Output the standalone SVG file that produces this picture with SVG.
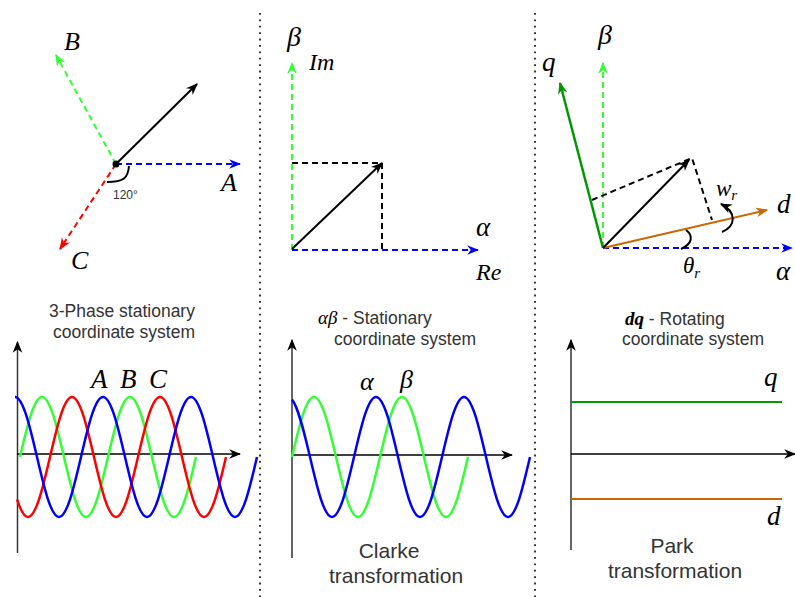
<svg xmlns="http://www.w3.org/2000/svg" width="795" height="597" viewBox="0 0 795 597">
<style>
.math{font-family:"Liberation Serif","DejaVu Serif",serif;font-style:italic;fill:#000}
.cap{font-family:"Liberation Sans",Arial,sans-serif;fill:#333}
.sep{stroke:#222;stroke-width:1.8;stroke-dasharray:1.8 4.6;fill:none}
.dash{fill:none;stroke-width:2;stroke-dasharray:6 4}
.solid{fill:none;stroke-width:2}
.wave{fill:none;stroke-width:2.5}
.axis{fill:none;stroke:#000;stroke-width:1.5}
.vaxis{fill:none;stroke:#333;stroke-width:1.5}
</style>
<defs>
<marker id="ah-k" viewBox="0 0 10 10" refX="9" refY="5" markerWidth="12" markerHeight="12" markerUnits="userSpaceOnUse" orient="auto"><path d="M0,1 L10,5 L0,9 L3,5 z" fill="#000"/></marker>
<marker id="ah-b" viewBox="0 0 10 10" refX="9" refY="5" markerWidth="12" markerHeight="12" markerUnits="userSpaceOnUse" orient="auto"><path d="M0,1 L10,5 L0,9 L3,5 z" fill="#0000FF"/></marker>
<marker id="ah-lg" viewBox="0 0 10 10" refX="9" refY="5" markerWidth="12" markerHeight="12" markerUnits="userSpaceOnUse" orient="auto"><path d="M0,1 L10,5 L0,9 L3,5 z" fill="#33FF33"/></marker>
<marker id="ah-r" viewBox="0 0 10 10" refX="9" refY="5" markerWidth="12" markerHeight="12" markerUnits="userSpaceOnUse" orient="auto"><path d="M0,1 L10,5 L0,9 L3,5 z" fill="#FF0000"/></marker>
<marker id="ah-g" viewBox="0 0 10 10" refX="9" refY="5" markerWidth="12" markerHeight="12" markerUnits="userSpaceOnUse" orient="auto"><path d="M0,1 L10,5 L0,9 L3,5 z" fill="#009900"/></marker>
<marker id="ah-o" viewBox="0 0 10 10" refX="9" refY="5" markerWidth="12" markerHeight="12" markerUnits="userSpaceOnUse" orient="auto"><path d="M0,1 L10,5 L0,9 L3,5 z" fill="#CC6600"/></marker>
</defs>

<g id="separators">
<line class="sep" x1="260" y1="13" x2="260" y2="597"/>
<line class="sep" x1="535" y1="13" x2="535" y2="597"/>
</g>

<!-- Panel 1: 3-phase phasors -->
<g id="abc-phasors">
<line class="dash" stroke="#0000FF" x1="116" y1="164" x2="240" y2="164" marker-end="url(#ah-b)"/>
<line class="dash" stroke="#33FF33" x1="116" y1="164" x2="56" y2="55" marker-end="url(#ah-lg)"/>
<line class="dash" stroke="#FF0000" x1="116" y1="164" x2="60" y2="249" marker-end="url(#ah-r)"/>
<line class="solid" stroke="#000" x1="116" y1="164" x2="197" y2="84" marker-end="url(#ah-k)"/>
<circle cx="116" cy="164" r="3.5" fill="#000"/>
<path d="M129,166 C128,178 124,182 107,182" fill="none" stroke="#000" stroke-width="2"/>
<text class="cap" x="113" y="199" font-size="12">120°</text>
<text class="math" x="64" y="50" font-size="26">B</text>
<text class="math" x="221" y="191" font-size="26">A</text>
<text class="math" x="71" y="269" font-size="26">C</text>
</g>

<!-- Panel 2: alpha-beta phasor -->
<g id="alphabeta-phasor">
<line class="dash" stroke="#33FF33" x1="292" y1="250" x2="292" y2="63" marker-end="url(#ah-lg)"/>
<line class="dash" stroke="#0000FF" x1="292" y1="250" x2="478" y2="250" marker-end="url(#ah-b)"/>
<path class="dash" stroke="#000" d="M292,163 L382,163 L382,250"/>
<line class="solid" stroke="#000" x1="292" y1="249" x2="382" y2="163" marker-end="url(#ah-k)"/>
<text class="math" x="287" y="46" font-size="28">β</text>
<text class="math" x="309" y="70" font-size="24">Im</text>
<text class="math" x="476" y="236" font-size="27">α</text>
<text class="math" x="476" y="280" font-size="24">Re</text>
</g>

<!-- Panel 3: dq phasor -->
<g id="dq-phasor">
<line class="dash" stroke="#33FF33" x1="603" y1="248" x2="603" y2="63" marker-end="url(#ah-lg)"/>
<line class="dash" stroke="#0000FF" x1="603" y1="248" x2="792" y2="248" marker-end="url(#ah-b)"/>
<line fill="none" stroke="#009900" stroke-width="2.5" x1="603" y1="248" x2="560" y2="83" marker-end="url(#ah-g)"/>
<line class="solid" stroke="#CC6600" x1="603" y1="248" x2="767" y2="210" marker-end="url(#ah-o)"/>
<path class="dash" stroke="#000" d="M592,200 L692,158 L712,220"/>
<line class="solid" stroke="#000" x1="603" y1="248" x2="689" y2="160" marker-end="url(#ah-k)"/>
<path d="M681,249 C692,244 694,236 686,230" fill="none" stroke="#000" stroke-width="2"/>
<path d="M722,232 C736,226 737,212 721,204" fill="none" stroke="#000" stroke-width="2" marker-end="url(#ah-k)"/>
<text class="math" x="598" y="44" font-size="28">β</text>
<text class="math" x="542" y="71" font-size="27">q</text>
<text class="math" x="777" y="213" font-size="27">d</text>
<text class="math" x="776" y="280" font-size="27">α</text>
<text class="math" x="716" y="196" font-size="23">w<tspan font-size="15" dy="4">r</tspan></text>
<text class="math" x="683" y="273" font-size="23">θ<tspan font-size="15" dy="5">r</tspan></text>
</g>

<!-- Panel 4: three-phase waves -->
<g id="abc-waves">
<text class="cap" x="122" y="317" font-size="17.5" text-anchor="middle">3-Phase stationary</text>
<text class="cap" x="124" y="338" font-size="17.5" text-anchor="middle">coordinate system</text>
<line class="vaxis" x1="17.5" y1="553" x2="17.5" y2="342" marker-end="url(#ah-k)"/>
<line class="axis" x1="17" y1="454" x2="240" y2="454" marker-end="url(#ah-k)"/>
<path class="wave" stroke="#33FF33" d="M20,457 c7.18,-30.74 14.04,-60 22,-60 c7.96,0 14.82,29.26 22,60 c7.18,30.74 14.04,60 22,60 c7.96,0 14.82,-29.26 22,-60 c7.18,-30.74 14.04,-60 22,-60 c7.96,0 14.82,29.26 22,60 c7.18,30.74 14.04,60 22,60 c7.96,0 14.82,-29.26 22,-60"/>
<path class="wave" stroke="#FF0000" d="M17,499.4 C20.67,510.5 24.33,517 28,517 c7.96,0 14.82,-29.26 22,-60 c7.18,-30.74 14.04,-60 22,-60 c7.96,0 14.82,29.26 22,60 c7.18,30.74 14.04,60 22,60 c7.96,0 14.82,-29.26 22,-60 c7.18,-30.74 14.04,-60 22,-60 c7.96,0 14.82,29.26 22,60 c7.18,30.74 14.04,60 22,60 c7.96,0 14.82,-29.26 22,-60"/>
<path class="wave" stroke="#0000FF" d="M15,397 c7.96,0 14.82,29.26 22,60 c7.18,30.74 14.04,60 22,60 c7.96,0 14.82,-29.26 22,-60 c7.18,-30.74 14.04,-60 22,-60 c7.96,0 14.82,29.26 22,60 c7.18,30.74 14.04,60 22,60 c7.96,0 14.82,-29.26 22,-60 c7.18,-30.74 14.04,-60 22,-60 c7.96,0 14.82,29.26 22,60 c7.18,30.74 14.04,60 22,60 c7.96,0 14.82,-29.26 22,-60"/>
<text class="math" x="91" y="388" font-size="27">A</text>
<text class="math" x="120" y="388" font-size="27">B</text>
<text class="math" x="149" y="388" font-size="27">C</text>
</g>

<!-- Panel 5: alpha-beta waves -->
<g id="alphabeta-waves">
<text x="318" y="324" font-size="17.5"><tspan class="math" font-size="19">αβ</tspan><tspan class="cap"> - Stationary</tspan></text>
<text class="cap" x="405" y="345" font-size="17.5" text-anchor="middle">coordinate system</text>
<line class="vaxis" x1="292" y1="558" x2="292" y2="340" marker-end="url(#ah-k)"/>
<line class="axis" x1="292" y1="455" x2="512" y2="455" marker-end="url(#ah-k)"/>
<path class="wave" stroke="#33FF33" d="M292,457 c7.18,-30.74 14.04,-60 22,-60 c7.96,0 14.82,29.26 22,60 c7.18,30.74 14.04,60 22,60 c7.96,0 14.82,-29.26 22,-60 c7.18,-30.74 14.04,-60 22,-60 c7.96,0 14.82,29.26 22,60 c7.18,30.74 14.04,60 22,60 c7.96,0 14.82,-29.26 22,-60"/>
<path class="wave" stroke="#0000FF" d="M292,399.5 C298,406.7 304,431.3 310,457 c7.18,30.74 14.04,60 22,60 c7.96,0 14.82,-29.26 22,-60 c7.18,-30.74 14.04,-60 22,-60 c7.96,0 14.82,29.26 22,60 c7.18,30.74 14.04,60 22,60 c7.96,0 14.82,-29.26 22,-60 c7.18,-30.74 14.04,-60 22,-60 c7.96,0 14.82,29.26 22,60 c7.18,30.74 14.04,60 22,60 c7.96,0 14.82,-29.26 22,-60"/>
<text class="math" x="360" y="390" font-size="26">α</text>
<text class="math" x="400" y="388" font-size="26">β</text>
<text class="cap" x="389" y="558" font-size="21" text-anchor="middle">Clarke</text>
<text class="cap" x="396" y="583" font-size="21" text-anchor="middle">transformation</text>
</g>

<!-- Panel 6: dq waves -->
<g id="dq-waves">
<text x="625" y="325" font-size="17.5"><tspan class="math" font-size="19" font-weight="bold">dq</tspan><tspan class="cap"> - Rotating</tspan></text>
<text class="cap" x="693" y="345" font-size="17.5" text-anchor="middle">coordinate system</text>
<line class="vaxis" x1="571" y1="550" x2="571" y2="340" marker-end="url(#ah-k)"/>
<line class="axis" x1="571" y1="454" x2="795" y2="454" marker-end="url(#ah-k)"/>
<line x1="571" y1="402" x2="782" y2="402" stroke="#009900" stroke-width="2"/>
<line x1="571" y1="499" x2="782" y2="499" stroke="#CC6600" stroke-width="2"/>
<text class="math" x="764" y="386" font-size="27">q</text>
<text class="math" x="767" y="525" font-size="27">d</text>
<text class="cap" x="672" y="553" font-size="21" text-anchor="middle">Park</text>
<text class="cap" x="675" y="578" font-size="21" text-anchor="middle">transformation</text>
</g>
</svg>
